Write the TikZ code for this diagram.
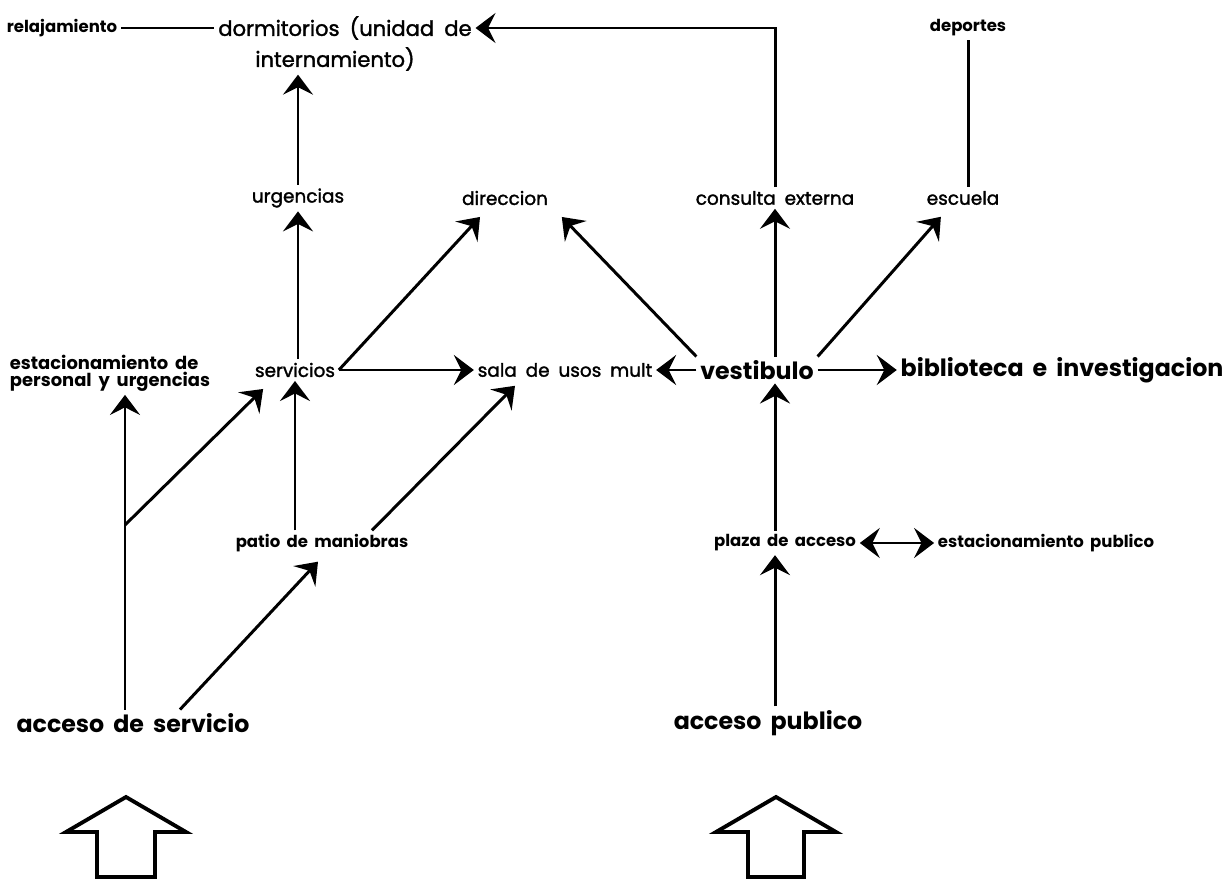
\documentclass[tikz,border=0pt]{standalone}
\usepackage{fontspec}
\setmainfont{Poppins}[WordSpace=1.8]
\newfontfamily\midfont{Poppins}[WordSpace=1.8,FakeBold=1.6]
\usetikzlibrary{arrows.meta,calc}

\begin{document}
\begin{tikzpicture}[
  x=0.02cm, y=-0.02cm,
  >={Stealth[length=4mm,width=6mm,inset=1.5mm]},
  small/.style={inner sep=2pt,font=\fontsize{9.4}{10}\selectfont\bfseries},
  medium/.style={inner sep=2pt,font=\fontsize{10.5}{12}\selectfont\midfont},
  large/.style={inner sep=2pt,font=\fontsize{13.5}{15}\selectfont\bfseries},
  flow/.style={line width=1.7pt,->},
  twoway/.style={line width=1.7pt,<->},
  link/.style={line width=1.7pt},
  gate/.style={line width=2.2pt,line join=miter}
]
\useasboundingbox (0,0) rectangle (1230,882);

% top row
\node[small] (rel) at (62,28) {relajamiento};
\node[medium,font=\fontsize{12}{14}\selectfont\midfont] (dorm) at (345,28) {dormitorios (unidad de};
\node[medium,font=\fontsize{12}{14}\selectfont\midfont] (dormb) at (335,59) {internamiento)};
\node[small] (dep) at (968,28) {deportes};

% second row
\node[medium] (urg) at (298,198) {urgencias};
\node[medium] (dir) at (505,198) {direccion};
\node[medium] (cons) at (775,198) {consulta externa};
\node[medium] (esc) at (963,198) {escuela};

% middle row
\node[small,align=left,font=\fontsize{10.2}{10.5}\selectfont\bfseries] (estp) at (110,373) {estacionamiento de\\[-1pt]personal y urgencias};
\node[medium] (serv) at (295,370) {servicios};
\node[medium] (sala) at (565,370) {sala de usos mult};
\node[large] (vest) at (757,370) {vestibulo};
\node[large] (bib) at (1062,370) {biblioteca e investigacion};

% lower row
\node[small] (patio) at (322,543) {patio de maniobras};
\node[small] (plaza) at (785,543) {plaza de acceso};
\node[small] (estpub) at (1046,543) {estacionamiento publico};

% entrances
\node[large] (accs) at (133,723) {acceso de servicio};
\node[large] (accp) at (768,723) {acceso publico};

% service side
\coordinate (fork) at (125,525);
\draw[link] (accs.north -| fork) -- (fork);
\draw[flow] (fork) -- (fork |- estp.south);
\draw[flow] (fork) -- ($(serv.south west)+(12,8)$);
\draw[flow] ($(accs.north)+(47,0)$) -- ($(patio.south)+(-4,6)$);
\draw[flow] (serv.south |- patio.north) -- (serv.south);
\draw[flow] ($(patio.north)+(50,0)$) -- ($(sala.south)+(-50,5)$);
\draw[flow] (urg.south |- serv.north) -- (urg.south);
\draw[flow] (urg.north) -- (urg.north |- dormb.south);
\draw[flow] (serv.east) -- ($(dir.south)+(-25,8)$);
\draw[flow] (serv.east) -- (sala.west);
\draw[link] (rel.east) -- (rel.east -| dorm.west);

% public side
\draw[flow] (accp.north -| cons.south) -- (plaza.south -| cons.south);
\draw[flow] (plaza.north -| cons.south) -- (vest.south -| cons.south);
\draw[twoway] (plaza.east) -- (estpub.west);
\draw[flow] (vest.west) -- (sala.east);
\draw[flow] (vest.north west) -- ($(dir.south east)+(10,8)$);
\draw[flow] (cons.south |- vest.north) -- (cons.south);
\draw[flow] (vest.north east) -- ($(esc.south west)+(18,8)$);
\draw[flow] (vest.east) -- (bib.west);
\draw[flow] (cons.north) |- (dorm.east);
\draw[link] (dep.south) -- (dep.south |- esc.north);

% entrance arrows
\foreach \cx/\hw in {126/29,776/28}
  \draw[gate] (\cx-\hw,877) -- (\cx-\hw,832) -- (\cx-60,832) -- (\cx,797)
    -- (\cx+60,832) -- (\cx+\hw,832) -- (\cx+\hw,877) -- cycle;
\end{tikzpicture}
\end{document}
